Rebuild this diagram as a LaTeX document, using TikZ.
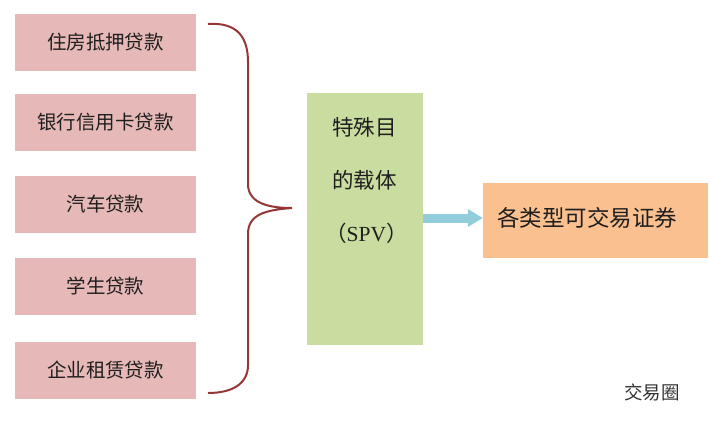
\documentclass[tikz,border=0pt]{standalone}
\usepackage{fontspec}
\setmainfont{Noto Sans CJK SC}
\newfontfamily\latinserif{Liberation Serif}
\usetikzlibrary{arrows.meta}
\definecolor{loanpink}{HTML}{E6B9B8}
\definecolor{spvgreen}{HTML}{C9DDA0}
\definecolor{secorange}{HTML}{FAC090}
\definecolor{arrowblue}{HTML}{92CDDC}
\definecolor{bracered}{HTML}{953735}
\tikzset{
  loanbox/.style={fill=loanpink, draw=none, minimum width=181pt, minimum height=57pt, inner sep=0pt, font=\fontsize{19.5}{22}\selectfont, text=black!88},
  spvbox/.style={fill=spvgreen, draw=none, minimum width=116pt, minimum height=252pt, inner sep=0pt},
  secbox/.style={fill=secorange, draw=none, minimum width=225pt, minimum height=75pt, inner sep=0pt},
  bigtxt/.style={font=\fontsize{21.5}{24}\selectfont, text=black!88, inner sep=0pt},
  bracepath/.style={draw=bracered, line width=2pt},
}
\begin{document}
\begin{tikzpicture}[x=1pt,y=-1pt]
\useasboundingbox (0,0) rectangle (710,424);
\node[loanbox] (l1) at (105.5,42.5) {住房抵押贷款};
\node[loanbox] (l2) at (105.5,122) {银行信用卡贷款};
\node[loanbox] (l3) at (105.5,204.5) {汽车贷款};
\node[loanbox] (l4) at (105.5,286.5) {学生贷款};
\node[loanbox] (l5) at (105.5,370.5) {企业租赁贷款};
\node[spvbox] (spv) at (365,219) {};
\node[bigtxt, anchor=west] (t1) at (332,127) {特殊目};
\node[bigtxt, anchor=west] (t2) at (332,180) {的载体};
\node[bigtxt, anchor=west] (t3) at (325,233) {（{\latinserif SPV}）};
\node[secbox] (sec) at (595.5,220.5) {};
\node[bigtxt, font=\fontsize{22.5}{26}\selectfont, anchor=west] (sect) at (497,218) {各类型可交易证券};
\node[anchor=center, font=\fontsize{18.5}{20}\selectfont, text=black!80, inner sep=0pt] (wm) at (652,392) {交易圈};
\coordinate (btop) at (208,24);
\coordinate (btip) at (292,208);
\coordinate (bbot) at (208,393);
\draw[bracepath] (btop) .. controls (238,22) and (248,38) .. (248,62)
  -- (248,184) .. controls (248,202) and (266,208) .. (btip)
  .. controls (266,210) and (248,214) .. (248,234)
  -- (248,365) .. controls (248,384) and (232,393) .. (bbot);
\coordinate (astart) at (spv.east |- 0,218);
\coordinate (aend) at (sec.west |- 0,218);
\draw[arrowblue, line width=9pt, -{Triangle[length=15pt,width=17pt]}] (astart) -- (aend);
\end{tikzpicture}
\end{document}
